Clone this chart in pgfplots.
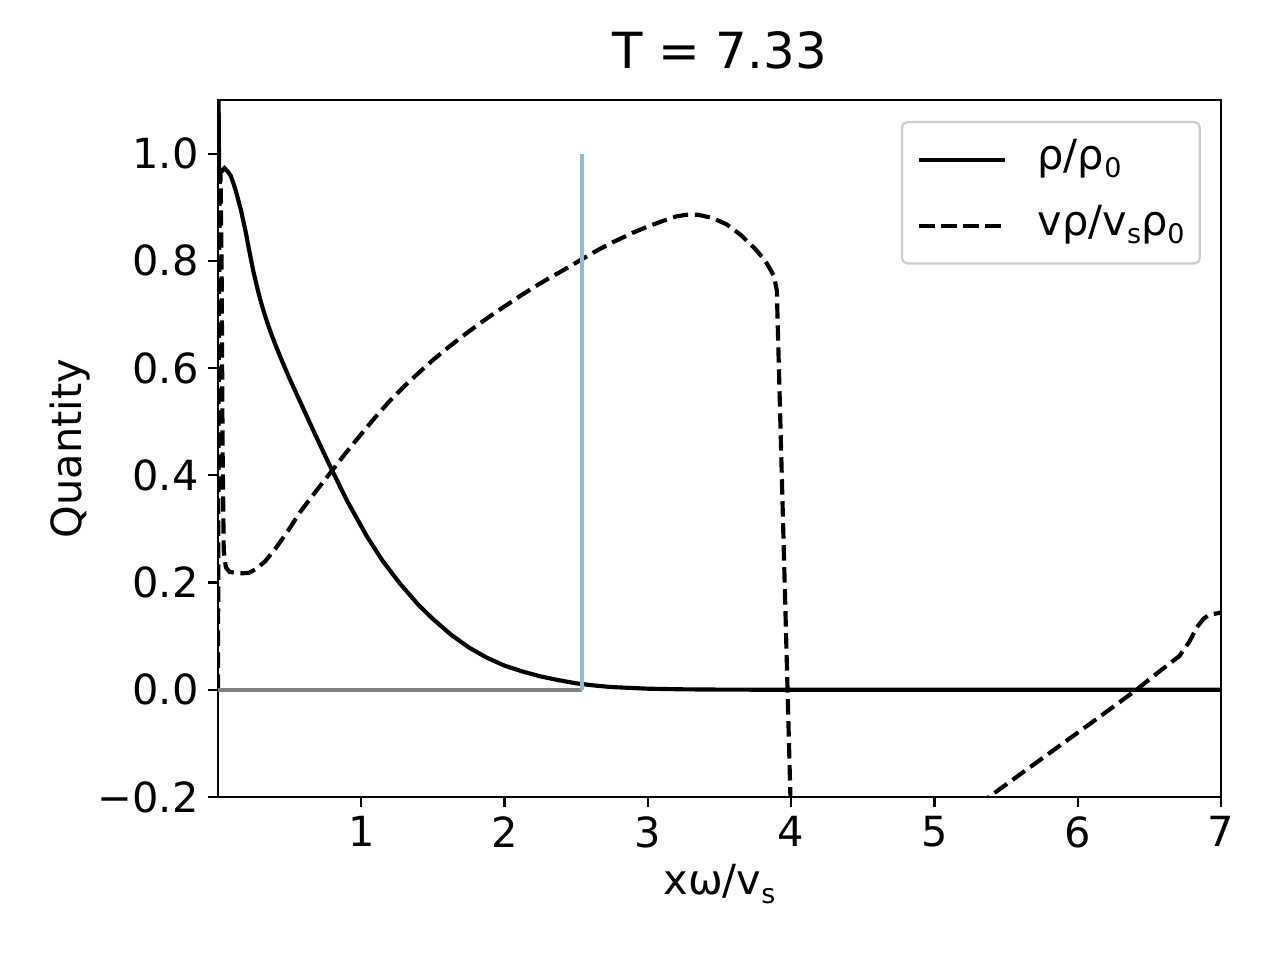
\documentclass[border=0pt]{standalone}
\usepackage{fontspec}
\setmainfont{DejaVu Sans}
\usepackage{pgfplots}
\pgfplotsset{compat=1.18}
\definecolor{lblue}{RGB}{143,187,217}
\definecolor{lgray}{RGB}{128,128,128}
\definecolor{legframe}{RGB}{204,204,204}
\newcommand\sub[1]{\raisebox{-0.2em}{\fontsize{9.75}{10}\selectfont #1}}
\begin{document}
\begin{tikzpicture}
\path[use as bounding box] (0,0) rectangle (6.4in,4.8in);
\begin{axis}[
  at={(1.09in,0.815in)}, anchor=south west,
  scale only axis, width=5.015in, height=3.485in,
  xmin=0, xmax=7, ymin=-0.2, ymax=1.1,
  axis line style={line width=0.8pt},
  tick align=outside, xtick pos=bottom, ytick pos=left,
  major tick length=3.5pt,
  every tick/.style={black, line width=0.8pt},
  xtick={1,2,3,4,5,6,7},
  xticklabels={1,2,3,4,5,6,7},
  ytick={-0.2,0,0.2,0.4,0.6,0.8,1.0},
  yticklabels={−0.2,0.0,0.2,0.4,0.6,0.8,1.0},
  ticklabel style={font=\fontsize{15}{18}\selectfont},
  title={T = 7.33},
  title style={at={(axis description cs:0.5,1.0215)}, anchor=base, font=\fontsize{18}{21.6}\selectfont, inner sep=0pt},
  xlabel={xω/v\sub{s}},
  xlabel style={at={(axis description cs:0.5,-0.1406)}, anchor=base, font=\fontsize{15}{18}\selectfont, inner sep=0pt},
  ylabel={Quantity},
  ylabel style={at={(axis description cs:-0.136,0.5)}, anchor=base, rotate=0, font=\fontsize{15}{18}\selectfont, inner sep=0pt},
  legend style={at={(axis description cs:0.98,0.97)}, anchor=north east,
    draw=legframe, rounded corners=2pt, line width=0.8pt,
    inner xsep=5.5pt, inner ysep=4pt, row sep=4.5pt, column sep=11pt,
    nodes={inner sep=0pt, text height=13.2pt, text depth=6.1pt},
    font=\fontsize{15}{18}\selectfont},
  legend cell align=left,
  legend image code/.code={\draw[#1] (0pt,0pt) -- (31pt,0pt);},
]
\addplot[black, line width=1.5pt] coordinates {
(0,1.25) (0.008,0.955) (0.02,0.965) (0.045,0.973) (0.07,0.966) (0.09,0.958) (0.107,0.945)
(0.125,0.93) (0.14,0.915) (0.16,0.895) (0.177,0.874) (0.195,0.852) (0.21,0.83) (0.23,0.803)
(0.247,0.78) (0.265,0.76) (0.28,0.743) (0.3,0.723) (0.316,0.708)
(0.345,0.684) (0.37,0.665) (0.4,0.644) (0.433,0.622) (0.5,0.58) (0.572,0.538) (0.68,0.475) (0.793,0.411)
(0.9,0.353) (1.037,0.287) (1.15,0.24) (1.27,0.198) (1.4,0.158) (1.5,0.132)
(1.625,0.103) (1.75,0.079) (1.875,0.060) (2.0,0.045) (2.125,0.034) (2.25,0.025) (2.375,0.018) (2.5,0.012)
(2.625,0.008) (2.75,0.005) (3.0,0.002) (3.25,0.0008) (3.5,0.0003) (4,0) (7,0)
};
\addlegendentry{ρ/ρ\sub{0}}
\addplot[black, line width=1.5pt, dash pattern=on 5.55pt off 2.4pt] coordinates {
(0,0) (0.005,0.6) (0.012,0.95) (0.018,0.96) (0.025,0.8) (0.032,0.45) (0.04,0.26)
(0.055,0.228) (0.08,0.22) (0.15,0.217) (0.216,0.218) (0.27,0.226) (0.33,0.24)
(0.4,0.263) (0.48,0.293) (0.572,0.331) (0.68,0.369) (0.782,0.404) (0.89,0.441) (1.0,0.477)
(1.1,0.509) (1.2,0.539) (1.3,0.566) (1.4,0.591) (1.5,0.615) (1.6,0.637) (1.7,0.658) (1.8,0.678)
(1.9,0.697) (2.0,0.715) (2.1,0.733) (2.2,0.75) (2.3,0.766) (2.4,0.781) (2.54,0.803) (2.65,0.82)
(2.75,0.834) (2.9,0.853) (3.0,0.864) (3.1,0.874) (3.2,0.883) (3.27,0.886) (3.35,0.886)
(3.45,0.88) (3.55,0.868) (3.65,0.848) (3.75,0.822) (3.82,0.8) (3.88,0.772) (3.9,0.745)
(3.995,-0.2) (4.02,-0.46) (5.38,-0.2) (6.155,-0.05) (6.41,0.0) (6.55,0.03)
(6.71,0.063) (6.78,0.09) (6.83,0.116) (6.88,0.133) (6.92,0.14) (7.0,0.144)
};
\addlegendentry{vρ/v\sub{s}ρ\sub{0}}
\addplot[lgray, line width=1.5pt, forget plot] coordinates {(0,0) (2.54,0)};
\addplot[lblue, line width=1.5pt, forget plot] coordinates {(2.54,0) (2.54,1.0)};
\end{axis}
\end{tikzpicture}
\end{document}
